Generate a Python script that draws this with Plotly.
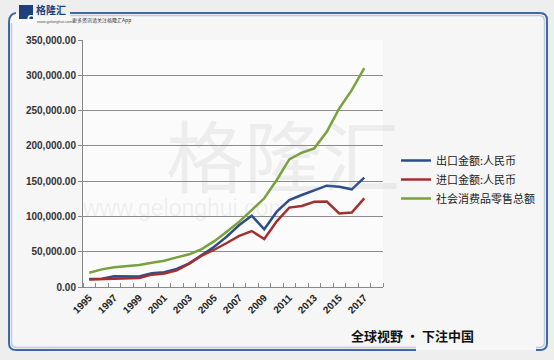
import plotly.graph_objects as go

years = list(range(1995, 2018))
export_cny = [11300, 11800, 15300, 15400, 15000, 19600, 20800, 25500, 33500, 45300, 57000, 71300,
              87900, 101000, 81700, 106700, 123300, 130400, 137400, 143600, 142000, 138400, 154900]
import_cny = [10500, 10900, 11500, 11200, 12600, 17500, 19200, 23600, 33200, 44500, 52800, 62300,
              72500, 79300, 68000, 93000, 112500, 114800, 120800, 121000, 104300, 105500, 125600]
retail = [20300, 25000, 27900, 29300, 31200, 34500, 37300, 42000, 46300, 53800, 65000, 78400,
          92600, 109000, 125700, 151600, 180900, 190300, 196500, 220000, 253000, 279000, 310000]
series_names = ["出口金额:人民币", "进口金额:人民币", "社会消费品零售总额"]
colors = ["#2c4d8c", "#a2302f", "#78a23b"]

W, H = 554, 360
L, R, T, B = 83, 383, 40, 287


def px(x):
    return (x - L) / (R - L)


def py(y):
    return (B - y) / (B - T)


fig = go.Figure()
for name, vals, c in zip(series_names, [export_cny, import_cny, retail], colors):
    fig.add_trace(go.Scatter(x=years, y=vals, name=name, mode="lines",
                             line=dict(color=c, width=2.5)))

fig.update_layout(
    width=W, height=H,
    margin=dict(l=L, r=W - R, t=T, b=H - B, autoexpand=False),
    paper_bgcolor="#eeeeee",
    plot_bgcolor="#fbfbfb",
    showlegend=True,
    legend=dict(x=px(396), y=py(146), xanchor="left", yanchor="top",
                bgcolor="rgba(0,0,0,0)", tracegroupgap=0, itemwidth=30,
                font=dict(family="Noto Sans CJK SC", size=11, color="#222222")),
    xaxis=dict(range=[1994.5, 2018.5], tickmode="array", tickvals=years[::2],
               ticktext=[str(y) for y in years[::2]], tickangle=-45, ticks="", automargin=False,
               showgrid=False, zeroline=False, showline=True, linecolor="#888888", linewidth=1,
               tickfont=dict(family="Liberation Sans, Arial, sans-serif", size=10, color="#222222",
                             weight="bold"),
               minor=dict(tickmode="linear", tick0=1994.5, dtick=1, ticks="inside",
                          ticklen=4, tickcolor="#888888", showgrid=False),
               fixedrange=True),
    yaxis=dict(range=[0, 350000], dtick=50000, tickformat=",.2f", ticks="outside", automargin=False,
               ticklen=4, tickcolor="#888888", showgrid=True, gridcolor="#8c8c8c", gridwidth=1,
               zeroline=False, showline=True, linecolor="#888888", linewidth=1,
               tickfont=dict(family="Liberation Sans, Arial, sans-serif", size=10, color="#333333",
                             weight="bold"),
               fixedrange=True),
)

# inner frame background
fig.add_shape(type="rect", xref="paper", yref="paper", x0=px(9), x1=px(547), y0=py(350), y1=py(13),
              fillcolor="#f6f6f6", line=dict(width=0), layer="below")
fig.add_shape(type="rect", xref="paper", yref="paper", x0=0, x1=1, y0=0, y1=1,
              fillcolor="#fbfbfb", line=dict(width=0), layer="below")


def P(x, y):
    return f"{px(x):.5f},{py(y):.5f}"


frame = (f"M {P(70,13)} L {P(540,13)} Q {P(547,13)} {P(547,20)} L {P(547,343)} "
         f"Q {P(547,350)} {P(540,350)} L {P(536,350)} "
         f"M {P(416,350)} L {P(16,350)} Q {P(9,350)} {P(9,343)} L {P(9,22)} Q {P(9,14)} {P(16,13)}")
fig.add_shape(type="path", xref="paper", yref="paper", path=frame,
              line=dict(color="#3e69a6", width=2))
inner = (f"M {P(70,15.5)} L {P(539,15.5)} Q {P(544.5,15.5)} {P(544.5,21)} L {P(544.5,342)} "
         f"Q {P(544.5,347.5)} {P(539,347.5)} L {P(536,347.5)} "
         f"M {P(416,347.5)} L {P(17,347.5)} Q {P(11.5,347.5)} {P(11.5,342)} L {P(11.5,23)}")
fig.add_shape(type="path", xref="paper", yref="paper", path=inner,
              line=dict(color="#b8cde6", width=1.5))

# watermark
fig.add_annotation(xref="paper", yref="paper", x=px(283), y=py(153), text="格隆汇", showarrow=False,
                   font=dict(family="Noto Sans CJK SC", size=78, color="rgba(150,150,150,0.13)"))
fig.add_annotation(xref="paper", yref="paper", x=px(290), y=py(223), text="www.gelonghui.com",
                   showarrow=False,
                   font=dict(family="Liberation Sans, Arial", size=23, color="rgba(150,150,150,0.13)"))

# logo
fig.add_shape(type="rect", xref="paper", yref="paper", x0=px(19), x1=px(33), y0=py(19), y1=py(5),
              fillcolor="#1f3f7a", line=dict(width=0))
fig.add_annotation(xref="paper", yref="paper", x=px(26), y=py(12), text="<b>G</b>", showarrow=False,
                   borderpad=0, font=dict(family="Liberation Sans", size=11, color="white"))
fig.add_annotation(xref="paper", yref="paper", x=px(35), y=py(10), text="<b>格隆汇</b>", showarrow=False,
                   xanchor="left", yanchor="middle", borderpad=0,
                   font=dict(family="Noto Sans CJK SC", size=10, color="#1f3f7a"))
fig.add_annotation(xref="paper", yref="paper", x=px(36), y=py(21.5), text="www.gelonghui.com",
                   showarrow=False, xanchor="left", yanchor="middle", borderpad=0,
                   font=dict(family="Liberation Sans", size=4, color="#555555"))
fig.add_annotation(xref="paper", yref="paper", x=px(71), y=py(19.5), text="更多资讯请关注格隆汇App",
                   showarrow=False, xanchor="left", yanchor="middle", borderpad=0,
                   font=dict(family="Noto Sans CJK SC", size=5, color="#333333"))

# slogan
fig.add_annotation(xref="paper", yref="paper", x=px(476), y=py(347), text="<b>全球视野 · 下注中国</b>",
                   showarrow=False, font=dict(family="Noto Sans CJK SC", size=13, color="#111111"))

fig.write_html("out.html", config={"displayModeBar": False},
               post_script="document.body.style.margin='0';document.body.style.overflow='hidden';")
